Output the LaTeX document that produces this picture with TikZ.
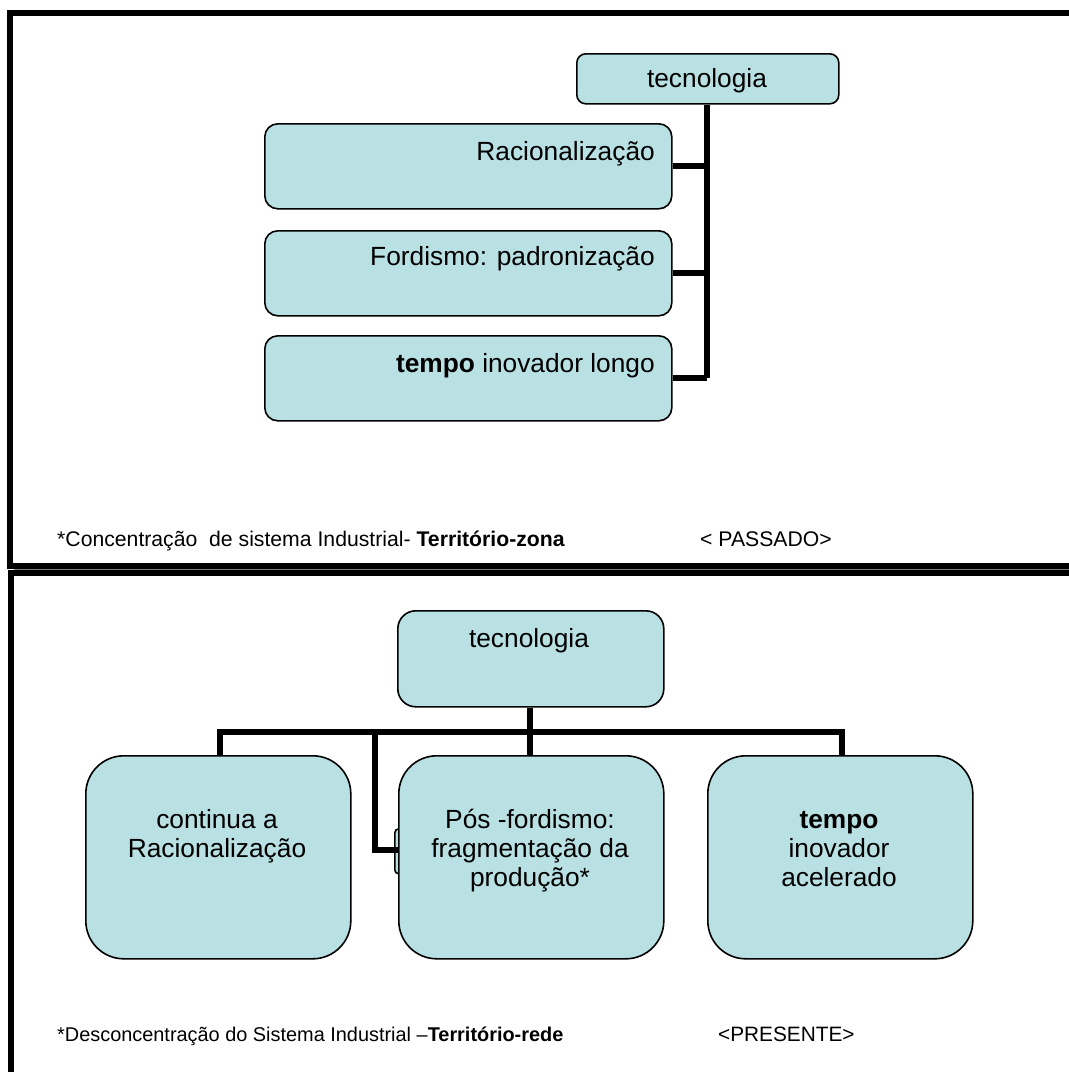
\documentclass[tikz,border=0pt]{standalone}
\usepackage{fontspec}
\setmainfont{Liberation Sans}
\definecolor{boxfill}{RGB}{185,224,227}
\begin{document}
\begin{tikzpicture}[x=1pt,y=-1pt,
  box/.style={draw=black, line width=1.6pt, fill=boxfill, rounded corners=13pt, inner sep=0pt},
  bigbox/.style={draw=black, line width=1.6pt, fill=boxfill, rounded corners=38pt, inner sep=0pt},
  conn/.style={line width=6pt},
  frameline/.style={line width=6pt},
  txt/.style={font=\fontsize{26.3}{29.3}\selectfont, inner sep=0pt},
  captxt/.style={font=\fontsize{21.2}{25}\selectfont, inner sep=0pt, anchor=base west}]
\useasboundingbox (0,0) rectangle (1069,1072);
% frames
\draw[frameline] (1069,13) -- (10,13) -- (10,566) -- (1069,566);
\draw[frameline] (1069,573) -- (11,573) -- (11,1072);
\draw[gray, line width=0.8pt] (14,569.5) -- (1069,569.5);
% ---------- top section ----------
\node[box, rounded corners=9pt, minimum width=262pt, minimum height=50pt, anchor=north west] (tt) at (576,53) {};
\node[txt, anchor=base] (ttx) at (707,87) {tecnologia};
\node[box, minimum width=407pt, minimum height=85pt, anchor=north west] (r1) at (264,123) {};
\node[box, minimum width=407pt, minimum height=85pt, anchor=north west] (r2) at (264,230) {};
\node[box, minimum width=407pt, minimum height=85pt, anchor=north west] (r3) at (264,335) {};
\node[txt, anchor=base east] (r1x) at (655,160) {Racionalização};
\node[txt, anchor=base east] (r2x) at (655,265) {Fordismo: padronização};
\node[txt, anchor=base east] (r3x) at (655,372) {\textbf{tempo} inovador longo};
\coordinate (spine) at (707,378);
\draw[conn] (tt.south -| spine) -- (spine);
\draw[conn] (r1.east) -- (r1.east -| spine);
\draw[conn] (r2.east) -- (r2.east -| spine);
\draw[conn] (r3.east) -- (r3.east -| spine);
\node[captxt] (c1) at (57,546) {*Concentração\ \ de sistema Industrial- \textbf{Território-zona}};
\node[captxt] (c1b) at (700,546) {< PASSADO>};
% ---------- bottom section ----------
\node[box, rounded corners=18pt, minimum width=266pt, minimum height=96pt, anchor=north west] (bt) at (397,610) {};
\node[txt, anchor=base] (btx) at (529,647) {tecnologia};
\node[box, rounded corners=4pt, minimum width=24pt, minimum height=45pt, anchor=north west] (hid) at (394,828) {};
\node[bigbox, minimum width=265pt, minimum height=203pt, anchor=north west] (b1) at (85,755) {};
\node[bigbox, minimum width=265pt, minimum height=203pt, anchor=north west] (b2) at (398,755) {};
\node[bigbox, minimum width=265pt, minimum height=203pt, anchor=north west] (b3) at (707,755) {};
\node[txt, anchor=base] (b1x) at (217,828) {\begin{tabular}[t]{@{}c@{}}continua a\\Racionalização\end{tabular}};
\node[txt, anchor=base] (b2x) at (530,828) {\begin{tabular}[t]{@{}c@{}}Pós -fordismo:\\fragmentação da\\produção*\end{tabular}};
\node[txt, anchor=base] (b3x) at (839,828) {\begin{tabular}[t]{@{}c@{}}\textbf{tempo}\\inovador\\acelerado\end{tabular}};
\coordinate (barL) at (220,732);
\coordinate (barR) at (842,732);
\coordinate (barX) at (375,732);
\coordinate (elbow) at (375,850);
\draw[conn] (bt.south -| b2x) -- (b2x |- barL);
\draw[conn] (barL |- b1.north) -- (barL) -- (barR) -- (barR |- b3.north);
\draw[conn] (b2x |- barL) -- (b2x |- b2.north);
\draw[conn] (barX) -- (elbow) -- (elbow -| b2.west);
\node[captxt, font=\fontsize{19.9}{24}\selectfont] (c2) at (57,1041) {*Desconcentração do Sistema Industrial –\textbf{Território-rede}};
\node[captxt, font=\fontsize{20.8}{24}\selectfont] (c2b) at (718,1041) {<PRESENTE>};
\end{tikzpicture}
\end{document}
